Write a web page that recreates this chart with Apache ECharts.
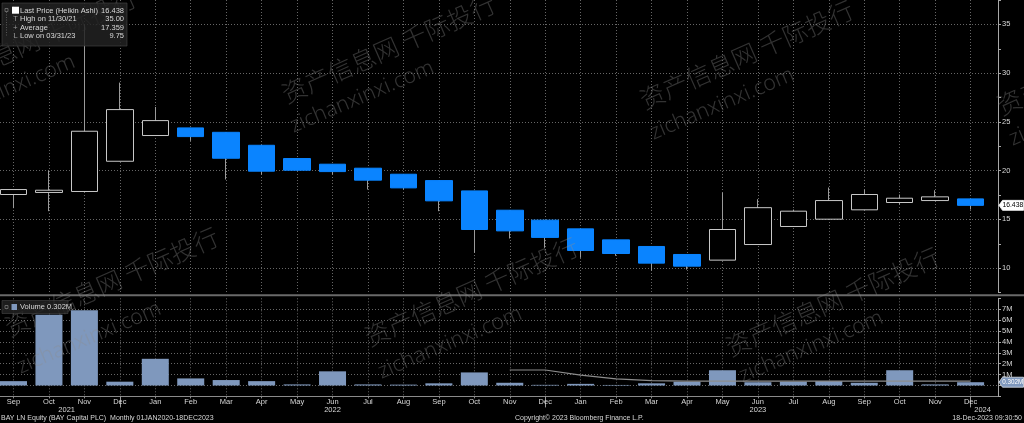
<!DOCTYPE html>
<html><head><meta charset="utf-8">
<script src="https://cdn.jsdelivr.net/npm/echarts@6/dist/echarts.min.js"></script>
<style>html,body{margin:0;padding:0;background:#000;}#c{width:1024px;height:423px;}</style>
</head><body><div id="c"></div>
<script>
// ---- data ----
const months = ['Sep','Oct','Nov','Dec','Jan','Feb','Mar','Apr','May','Jun','Jul','Aug','Sep','Oct','Nov','Dec','Jan','Feb','Mar','Apr','May','Jun','Jul','Aug','Sep','Oct','Nov','Dec'];
const yearLabels = ['2021','2022','2023','2024'];
const yearAt = [1.5, 9, 21, 27];
const openP  = [17.55,17.76,17.86,20.96,23.60,24.38,23.93,22.60,21.24,20.66,20.25,19.63,18.98,17.92,15.94,14.92,14.03,12.90,12.22,11.40,10.82,12.42,14.27,15.02,15.98,16.73,16.93,17.10];
const closeP = [18.06,17.99,24.04,26.26,25.13,23.49,21.27,19.94,20.04,19.90,19.02,18.23,16.90,13.96,13.82,13.15,11.81,11.50,10.51,10.20,13.96,16.20,15.84,16.93,17.55,17.17,17.31,16.438];
const lowP   = [16.15,15.84,17.86,20.96,23.60,23.05,19.09,19.60,20.04,19.60,18.06,18.06,15.84,11.57,13.04,12.08,11.06,11.26,9.75,9.85,10.82,12.42,14.27,15.02,15.98,16.52,16.93,16.01];
const highP  = [18.06,20.00,35.00,29.03,26.53,24.38,23.93,22.60,21.24,20.66,20.25,19.63,18.98,17.92,15.94,14.92,14.03,12.90,12.22,11.40,17.75,17.07,16.01,18.27,18.06,17.55,17.99,17.10];
const volumeM = [0.40,6.50,6.90,0.35,2.45,0.65,0.50,0.40,0.10,1.30,0.10,0.08,0.20,1.20,0.25,0.06,0.15,0.05,0.20,0.35,1.40,0.30,0.35,0.40,0.25,1.40,0.10,0.302];
const volLine = [null,null,null,null,null,null,null,null,null,null,null,null,null,null,1.42,1.42,0.95,0.60,0.45,0.40,0.40,0.40,0.40,0.40,0.40,0.40,0.40,0.40];
const legendRows = [['Last Price (Heikin Ashi)','16.438'],['High on 11/30/21','35.00'],['Average','17.359'],['Low on 03/31/23','9.75']];
const volLegend = 'Volume 0.302M';
const footLeft = 'BAY LN Equity (BAY Capital PLC)  Monthly 01JAN2020-18DEC2023';
const footMid = 'Copyright\u00A9 2023 Bloomberg Finance L.P.';
const footRight = '18-Dec-2023 09:30:50';
const wmCN = '资产信息网 千际投行';
const wmEN = 'zichanxinxi.com';

// ---- style ----
const FONT = "'Liberation Sans Narrow','Liberation Sans',Arial,sans-serif";
const FS = 7.5;
const TXT = '#d8d8d8';
const AX = '#a8a8a8';
const GRIDC = '#666666';
const UP_BORDER = '#c8c8c8';
const DOWN = '#0a84ff';
const VOLC = '#7f98bd';
const dotted = {show:true, lineStyle:{color:GRIDC, type:[1,2], width:1}};

const chart = echarts.init(document.getElementById('c'), null, {renderer:'canvas'});

const grids = [
  {left:0, top:0, width:998, height:292.5},
  {left:0, top:24.375, width:998, height:243.75},
  {left:13.5, top:0, width:957.1, height:292.5},
  {left:0, top:298.3, width:998, height:98.1},
  {left:13.5, top:298.3, width:957.1, height:98.1}
];
const hiddenVal = (g) => ({type:'value', gridIndex:g, position:'bottom', min:0, max:1, show:false});

const option = {
  backgroundColor:'#000',
  animation:false,
  grid: grids,
  xAxis: [
    hiddenVal(0),
    hiddenVal(1),
    {type:'category', gridIndex:2, position:'bottom', data:months, boundaryGap:false,
      axisLine:{show:false, onZero:false}, axisTick:{show:false}, axisLabel:{show:false},
      splitLine:Object.assign({interval:0}, dotted)},
    {type:'value', gridIndex:3, position:'bottom', min:0, max:1,
      axisLine:{show:true, onZero:false, lineStyle:{color:'#8a8a8a', width:1}},
      axisTick:{show:false}, axisLabel:{show:false}, splitLine:{show:false}},
    {type:'category', gridIndex:4, position:'bottom', offset:0, data:months, boundaryGap:false,
      axisLine:{show:false, onZero:false},
      axisTick:{show:true, interval:0, length:2, lineStyle:{color:'#8a8a8a'}},
      axisLabel:{show:true, interval:0, color:TXT, fontSize:FS, fontFamily:FONT, margin:2},
      splitLine:Object.assign({interval:0}, dotted)},
    {type:'category', gridIndex:4, position:'bottom', offset:0, data:months, boundaryGap:false,
      axisLine:{show:false, onZero:false},
      axisTick:{show:true, interval:(i, v) => v === 'Dec', length:11, lineStyle:{color:'#9a9a9a'}},
      axisLabel:{show:false}, splitLine:{show:false}},
    {type:'value', gridIndex:4, position:'bottom', offset:0, min:0, max:27, interval:0.5,
      axisLine:{show:false, onZero:false}, axisTick:{show:false}, splitLine:{show:false},
      axisLabel:{show:true, color:TXT, fontSize:FS, fontFamily:FONT, margin:10, showMinLabel:true, showMaxLabel:true,
        formatter:(v) => {
          for (let k = 0; k < yearAt.length; k++) {
            if (Math.abs(v - yearAt[k]) < 1e-6) return k === yearAt.length - 1 ? '{r|' + yearLabels[k] + '}' : yearLabels[k];
          }
          return '';
        },
        rich:{r:{color:TXT, fontSize:FS, fontFamily:FONT, padding:[0,0,0,24]}}}}
  ],
  yAxis: [
    {type:'value', gridIndex:0, position:'right', min:7.5, max:37.5, interval:2.5,
      axisLine:{show:true, onZero:false, lineStyle:{color:AX}},
      axisTick:{show:true, length:3, lineStyle:{color:AX}},
      axisLabel:{color:TXT, fontSize:FS, fontFamily:FONT, margin:4,
        formatter:(v) => (Math.abs(v % 5) < 1e-6 && v >= 10 && v <= 35) ? String(v) : ''},
      splitLine:{show:false}},
    {type:'value', gridIndex:1, position:'right', min:10, max:35, interval:5,
      axisLine:{show:false, onZero:false}, axisTick:{show:false}, axisLabel:{show:false},
      splitLine:dotted},
    {type:'value', gridIndex:2, min:7.5, max:37.5, show:false, axisLine:{onZero:false}, splitLine:{show:false}},
    {type:'value', gridIndex:3, position:'right', min:-1, max:8, interval:1,
      axisLine:{show:true, onZero:false, lineStyle:{color:AX}},
      axisTick:{show:true, length:3, lineStyle:{color:AX}},
      axisLabel:{color:TXT, fontSize:FS, fontFamily:FONT, margin:4,
        formatter:(v) => (v >= 1 && v <= 7) ? v + 'M' : ''},
      splitLine:{show:true, showMaxLine:false, lineStyle:{color:GRIDC, type:[1,2], width:1}}},
    {type:'value', gridIndex:4, min:-1, max:8, show:false, axisLine:{onZero:false}, splitLine:{show:false}}
  ],
  series: [
    {type:'candlestick', name:'wick', xAxisIndex:2, yAxisIndex:2, clip:false, silent:true, barWidth:1,
      data: months.map((m, i) => [lowP[i], lowP[i], lowP[i], highP[i]]),
      itemStyle:{color:'#9a9a9a', color0:'#9a9a9a', borderColor:'#9a9a9a', borderColor0:'#9a9a9a', borderWidth:1}},
    {type:'candlestick', name:'body', xAxisIndex:2, yAxisIndex:2, clip:false, silent:true, barWidth:27,
      data: months.map((m, i) => [openP[i], closeP[i], Math.min(openP[i], closeP[i]), Math.max(openP[i], closeP[i])]),
      itemStyle:{color:'#000', color0:DOWN, borderColor:UP_BORDER, borderColor0:DOWN, borderWidth:1}},
    {type:'bar', name:'Volume', xAxisIndex:4, yAxisIndex:4, clip:false, silent:true, barWidth:27,
      data: volumeM, itemStyle:{color:VOLC}},
    {type:'line', name:'volline', xAxisIndex:4, yAxisIndex:4, silent:true, symbol:'none',
      data: volLine, lineStyle:{color:'#8c8c8c', width:1.2}}
  ]
};
chart.setOption(option);

// ---- graphics (labels, legend, watermark) ----
const g = [];
g.push({type:'rect', shape:{x:0, y:294.2, width:1024, height:2}, style:{fill:'#6a6a6a'}, z:10});

const wmStyle = (t, fs, fam) => ({text:t, fill:'rgba(140,140,140,0.36)', font:'300 ' + fs + 'px ' + fam, textAlign:'left', textVerticalAlign:'middle'});
const cnFam = "'Noto Sans CJK SC',sans-serif";
const enFam = "'Noto Sans',sans-serif";
// [cnX, cnY, enX, enY]
const rowsWM = [[-76,89,-68,121],[283,95,291,127],[641,101,651,134],[998,107,1010,140],[6,328,18,368],[366,338,379,373],[727,348,740,377]];
rowsWM.forEach(r => {
  g.push({type:'text', x:r[0], y:r[1], rotation:0.415, style:wmStyle(wmCN, 25, cnFam), z:50, silent:true});
  g.push({type:'text', x:r[2], y:r[3], rotation:0.4, style:wmStyle(wmEN, 21.5, enFam), z:50, silent:true});
});

g.push({type:'rect', shape:{x:2, y:3, width:125, height:43}, style:{fill:'rgba(34,34,34,0.85)', stroke:'rgba(70,70,70,0.6)', lineWidth:1}, z:60});
const rowY = [10.7, 19.3, 27.7, 36];
g.push({type:'rect', shape:{x:12, y:6.7, width:7, height:7}, style:{fill:'#ffffff'}, z:61});
g.push({type:'rect', shape:{x:5, y:8.5, width:3, height:3}, style:{fill:'none', stroke:'#777', lineWidth:0.8}, z:61});
g.push({type:'line', shape:{x1:6.5, y1:12, x2:6.5, y2:36}, style:{stroke:'#666', lineWidth:0.8, lineDash:[1,1.5]}, z:61});
const glyphs = ['', 'T', '+', 'L'];
legendRows.forEach((row, k) => {
  if (glyphs[k]) g.push({type:'text', x:15.5, y:rowY[k], style:{text:glyphs[k], fill:'#9a9a9a', font:FS + 'px ' + FONT, textAlign:'center', textVerticalAlign:'middle'}, z:61});
  g.push({type:'text', x:20, y:rowY[k], style:{text:row[0], fill:TXT, font:FS + 'px ' + FONT, textAlign:'left', textVerticalAlign:'middle'}, z:61});
  g.push({type:'text', x:124, y:rowY[k], style:{text:row[1], fill:TXT, font:FS + 'px ' + FONT, textAlign:'right', textVerticalAlign:'middle'}, z:61});
});

g.push({type:'rect', shape:{x:2, y:300.5, width:66, height:13}, style:{fill:'rgba(34,34,34,0.85)', stroke:'rgba(70,70,70,0.6)', lineWidth:1}, z:60});
g.push({type:'rect', shape:{x:5, y:305.5, width:3, height:3}, style:{fill:'none', stroke:'#777', lineWidth:0.8}, z:61});
g.push({type:'rect', shape:{x:11.5, y:304, width:5.5, height:6}, style:{fill:VOLC}, z:61});
g.push({type:'text', x:20, y:307.3, style:{text:volLegend, fill:TXT, font:FS + 'px ' + FONT, textAlign:'left', textVerticalAlign:'middle'}, z:61});

const lastI = months.length - 1;
const yPrice = chart.convertToPixel({yAxisIndex:2}, closeP[lastI]);
const yVol = chart.convertToPixel({yAxisIndex:4}, volumeM[lastI]);
function tag(y, txt, fill, stroke, tcol, fs) {
  g.push({type:'polygon', shape:{points:[[999, y], [1002.5, y - 5], [1023.5, y - 5], [1023.5, y + 5], [1002.5, y + 5]]}, style:{fill:fill, stroke:stroke, lineWidth:0.8}, z:70});
  g.push({type:'text', x:1023.2, y:y, style:{text:txt, fill:tcol, font:fs + 'px ' + FONT, textAlign:'right', textVerticalAlign:'middle'}, z:71});
}
tag(yPrice, closeP[lastI].toFixed(3), '#ffffff', '#ffffff', '#000000', 6.8);
tag(yVol, volumeM[lastI].toFixed(3) + 'M', VOLC, '#dfe6f0', '#ffffff', 6.3);

g.push({type:'text', x:1, y:418, style:{text:footLeft, fill:TXT, font:'7px ' + FONT, textAlign:'left', textVerticalAlign:'middle'}, z:61});
g.push({type:'text', x:515, y:418, style:{text:footMid, fill:TXT, font:'7px ' + FONT, textAlign:'left', textVerticalAlign:'middle'}, z:61});
g.push({type:'text', x:1022, y:418, style:{text:footRight, fill:TXT, font:'7px ' + FONT, textAlign:'right', textVerticalAlign:'middle'}, z:61});

chart.setOption({graphic:g});
</script>
</body></html>
